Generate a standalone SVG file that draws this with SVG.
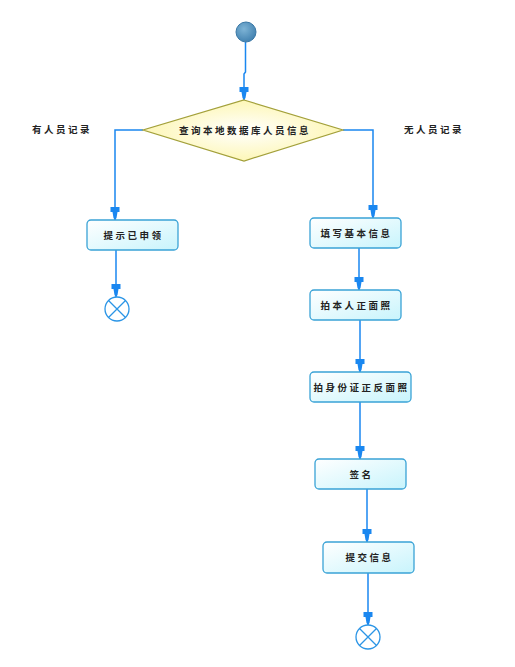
<svg xmlns="http://www.w3.org/2000/svg" width="515" height="667" viewBox="0 0 515 667">
<defs>
<linearGradient id="boxg" x1="0" y1="0" x2="1" y2="1">
<stop offset="0" stop-color="#ffffff"/>
<stop offset="1" stop-color="#c8f4fc"/>
</linearGradient>
<radialGradient id="diag" cx="0.5" cy="0.5" r="0.6">
<stop offset="0" stop-color="#ffffff"/>
<stop offset="1" stop-color="#fdf5a8"/>
</radialGradient>
<radialGradient id="startg" cx="0.4" cy="0.35" r="0.7">
<stop offset="0" stop-color="#7eb4d6"/>
<stop offset="1" stop-color="#3f7fae"/>
</radialGradient>
<marker id="arr" viewBox="-14 -6 15 12" refX="0" refY="0" markerWidth="15" markerHeight="12" markerUnits="userSpaceOnUse" orient="auto">
<path d="M0,0 L-2,-1.5 L-8,-2.5 L-8,-4.5 L-13,-4.5 L-13,4.5 L-8,4.5 L-8,2.5 L-2,1.5 Z" fill="#1a87f0"/>
</marker>
<style>
.box{fill:url(#boxg);stroke:#3aa3d6;stroke-width:1.3}
.lbl{font-family:"Noto Sans CJK SC","Noto Sans",sans-serif;font-size:9.5px;font-weight:bold;fill:#222;letter-spacing:2.5px;text-anchor:middle}
.edge{fill:none;stroke:#1a87f0;stroke-width:1.5;marker-end:url(#arr)}
.end circle,.end path{fill:none;stroke:#2b95e6;stroke-width:1.3}
</style>
</defs>
<rect width="515" height="667" fill="#ffffff"/>

<g id="connectors">
<path class="edge" d="M245.5,42 L245.5,72 L244,74 L244,100"/>
<path class="edge" d="M143,130 L115,130 L115,220"/>
<path class="edge" d="M343,130 L373,130 L373,218"/>
<path class="edge" d="M116,250 L116,297"/>
<path class="edge" d="M359,248 L359,290"/>
<path class="edge" d="M360,320 L360,372"/>
<path class="edge" d="M360,402 L360,459"/>
<path class="edge" d="M367,489 L367,542"/>
<path class="edge" d="M368,573 L368,625"/>
</g>

<g id="start">
<circle cx="246" cy="32" r="10" fill="url(#startg)" stroke="#3a78a6" stroke-width="1"/>
</g>

<g id="decision">
<polygon points="244,100 343,130 244,161 143,130" fill="url(#diag)" stroke="#a3a03a" stroke-width="1.2"/>
<text class="lbl" x="245" y="133.5">查询本地数据库人员信息</text>
</g>

<g id="label-yes"><text class="lbl" x="62" y="133">有人员记录</text></g>
<g id="label-no"><text class="lbl" x="434" y="133">无人员记录</text></g>

<g id="n-notice">
<rect class="box" x="87" y="220" width="91" height="30" rx="4"/>
<text class="lbl" x="133.5" y="238.5">提示已申领</text>
</g>

<g id="end-left" class="end">
<circle cx="117" cy="309" r="12"/>
<path d="M108.5,300.5 L125.5,317.5 M125.5,300.5 L108.5,317.5"/>
</g>

<g id="n-fill">
<rect class="box" x="310" y="218" width="91" height="30" rx="4"/>
<text class="lbl" x="356.5" y="236.5">填写基本信息</text>
</g>

<g id="n-photo">
<rect class="box" x="310" y="290" width="91" height="30" rx="4"/>
<text class="lbl" x="356.5" y="308.5">拍本人正面照</text>
</g>

<g id="n-idphoto">
<rect class="box" x="310" y="372" width="101" height="30" rx="4"/>
<text class="lbl" x="361.5" y="390.5">拍身份证正反面照</text>
</g>

<g id="n-sign">
<rect class="box" x="315" y="459" width="91" height="30" rx="4"/>
<text class="lbl" x="361.5" y="477.5">签名</text>
</g>

<g id="n-submit">
<rect class="box" x="323" y="542" width="91" height="31" rx="4"/>
<text class="lbl" x="369.5" y="561">提交信息</text>
</g>

<g id="end-right" class="end">
<circle cx="368" cy="637" r="12"/>
<path d="M359.5,628.5 L376.5,645.5 M376.5,628.5 L359.5,645.5"/>
</g>
</svg>
